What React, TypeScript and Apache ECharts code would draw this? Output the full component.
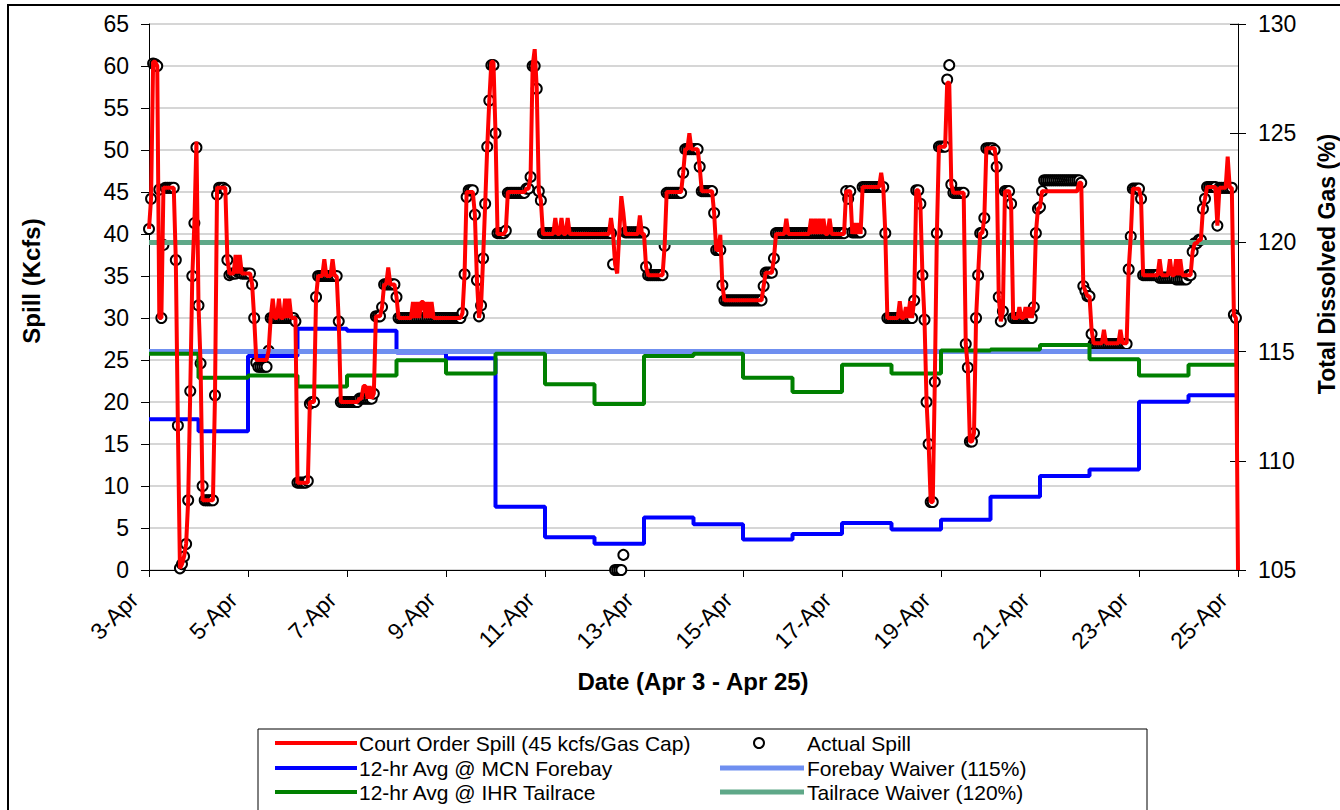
import React, { useEffect, useRef } from 'react';
import * as echarts from 'echarts';

// Tick labels of the date axis (every 48 hours, from 3-Apr 00:00)
const dateLabels = ['3-Apr', '5-Apr', '7-Apr', '9-Apr', '11-Apr', '13-Apr', '15-Apr', '17-Apr', '19-Apr', '21-Apr', '23-Apr', '25-Apr'];

// Actual spill (kcfs), hourly, 3-Apr 00:00 .. 24-Apr 23:00
const actualSpill = [
  // 3-Apr
  40.6, 44.2, 60.3, 60.2, 60.0, 45.3, 30.0, 38.7, 45.5, 45.5, 45.5, 45.5, 45.5, 36.9, 17.2, 0.2, 0.7, 1.6, 3.1, 8.3, 21.3, 35.0, 41.3, 50.3,
  // 4-Apr
  31.5, 24.6, 10.0, 8.3, 8.3, 8.3, 8.3, 8.3, 20.8, 44.7, 45.5, 45.5, 45.5, 45.3, 36.9, 35.1, 35.3, 35.3, 35.3, 35.5, 35.5, 35.3, 35.3, 35.3,
  // 5-Apr
  35.3, 35.3, 34.0, 30.0, 24.7, 24.2, 24.2, 24.2, 24.2, 24.2, 26.1, 30.0, 30.0, 30.0, 30.0, 30.0, 30.0, 30.0, 30.0, 30.0, 30.0, 30.0, 30.0, 29.6,
  // 6-Apr
  10.4, 10.4, 10.4, 10.4, 10.4, 10.6, 19.8, 20.0, 20.0, 32.5, 35.0, 35.0, 35.0, 35.0, 35.0, 35.0, 35.0, 35.0, 35.0, 35.0, 29.6, 20.0, 20.0, 20.0,
  // 7-Apr
  20.0, 20.0, 20.0, 20.0, 20.0, 20.0, 20.4, 20.4, 20.4, 20.4, 20.4, 20.4, 20.4, 21.0, 30.2, 30.2, 30.2, 31.3, 34.0, 34.0, 34.0, 34.0, 34.0, 34.0,
  // 8-Apr
  32.5, 30.0, 30.0, 30.0, 30.0, 30.0, 30.0, 30.0, 30.0, 30.0, 30.0, 30.0, 30.0, 30.0, 30.0, 30.0, 30.0, 30.0, 30.0, 30.0, 30.0, 30.0, 30.0, 30.0,
  // 9-Apr
  30.0, 30.0, 30.0, 30.0, 30.0, 30.0, 30.0, 30.0, 30.6, 35.2, 44.4, 45.2, 45.2, 45.2, 42.3, 34.5, 30.2, 31.5, 37.1, 43.6, 50.4, 55.9, 60.1, 60.1,
  // 10-Apr
  52.0, 40.1, 40.1, 40.1, 40.1, 40.4, 44.9, 44.9, 44.9, 44.9, 44.9, 44.9, 44.9, 44.9, 44.9, 45.4, 45.4, 46.8, 60.0, 60.0, 57.3, 45.1, 44.0, 40.1,
  // 11-Apr
  40.1, 40.1, 40.1, 40.1, 40.1, 40.1, 40.1, 40.1, 40.1, 40.1, 40.1, 40.1, 40.1, 40.1, 40.1, 40.1, 40.1, 40.1, 40.1, 40.1, 40.1, 40.1, 40.1, 40.1,
  // 12-Apr
  40.1, 40.1, 40.1, 40.1, 40.1, 40.1, 40.1, 40.1, 40.1, 36.4, 0.0, 0.0, 0.0, 0.0, 1.8, 40.2, 40.2, 40.2, 40.2, 40.2, 40.2, 40.2, 40.2, 40.2,
  // 13-Apr
  40.2, 36.1, 35.1, 35.1, 35.1, 35.1, 35.1, 35.1, 35.1, 35.1, 38.6, 44.9, 44.9, 44.9, 44.9, 44.9, 44.9, 44.9, 44.9, 47.3, 50.1, 50.1, 50.1, 50.1,
  // 14-Apr
  50.1, 50.1, 50.1, 48.0, 45.1, 45.1, 45.1, 45.1, 45.1, 45.1, 42.5, 38.1, 38.1, 38.1, 33.9, 32.1, 32.1, 32.1, 32.1, 32.1, 32.1, 32.1, 32.1, 32.1,
  // 15-Apr
  32.1, 32.1, 32.1, 32.1, 32.1, 32.1, 32.1, 32.1, 32.1, 32.1, 33.8, 35.4, 35.4, 35.4, 35.4, 37.1, 40.1, 40.1, 40.1, 40.1, 40.1, 40.1, 40.1, 40.1,
  // 16-Apr
  40.1, 40.1, 40.1, 40.1, 40.1, 40.1, 40.1, 40.1, 40.1, 40.1, 40.1, 40.1, 40.1, 40.1, 40.1, 40.1, 40.1, 40.1, 40.1, 40.1, 40.1, 40.1, 40.1, 40.1,
  // 17-Apr
  40.1, 40.1, 45.1, 44.2, 45.1, 40.2, 40.2, 40.2, 40.2, 40.2, 45.6, 45.6, 45.6, 45.6, 45.6, 45.6, 45.6, 45.6, 45.6, 45.6, 45.6, 40.1, 30.0, 30.0,
  // 18-Apr
  30.0, 30.0, 30.0, 30.0, 30.0, 30.0, 30.0, 30.0, 30.0, 30.0, 30.0, 32.1, 45.2, 45.2, 43.6, 35.1, 29.8, 20.0, 15.0, 8.1, 8.1, 22.4, 40.1, 50.4,
  // 19-Apr
  50.4, 50.4, 50.4, 58.4, 60.1, 45.9, 44.9, 44.9, 44.9, 44.9, 44.9, 44.9, 26.9, 24.1, 15.3, 15.3, 16.3, 30.0, 35.1, 40.1, 40.1, 41.9, 50.2, 50.2,
  // 20-Apr
  50.2, 50.2, 50.0, 48.0, 32.5, 29.6, 30.8, 45.1, 45.1, 45.1, 43.6, 30.0, 30.0, 30.0, 30.0, 30.0, 30.0, 30.0, 30.0, 30.0, 30.0, 31.3, 40.1, 43.0,
  // 21-Apr
  43.2, 45.1, 46.4, 46.4, 46.4, 46.4, 46.4, 46.4, 46.4, 46.4, 46.4, 46.4, 46.4, 46.4, 46.4, 46.4, 46.4, 46.4, 46.4, 46.4, 46.1, 33.8, 33.2, 32.6,
  // 22-Apr
  32.6, 28.1, 26.9, 26.9, 26.9, 26.9, 26.9, 26.9, 26.9, 26.9, 26.9, 26.9, 26.9, 26.9, 26.9, 26.9, 26.9, 26.9, 26.9, 35.8, 39.7, 45.4, 45.4, 45.4,
  // 23-Apr
  45.4, 44.2, 35.1, 35.1, 35.1, 35.1, 35.1, 35.1, 35.1, 35.1, 34.8, 34.8, 34.8, 34.8, 34.8, 34.8, 34.8, 34.8, 34.6, 34.6, 34.6, 34.6, 34.6, 34.6,
  // 24-Apr
  35.1, 35.1, 37.9, 38.9, 38.9, 39.3, 39.3, 43.0, 44.2, 45.6, 45.6, 45.6, 45.6, 45.6, 41.0, 45.5, 45.5, 45.5, 45.5, 45.5, 45.5, 45.5, 30.4, 30.0,
];

// Court order spill (kcfs), hourly, 3-Apr 00:00 .. 25-Apr 00:00
const courtOrderSpill = [
  // 3-Apr
  40.6, 44.2, 60.5, 60.5, 60.0, 30.0, 30.0, 45.5, 45.5, 45.5, 45.5, 45.5, 45.5, 36.9, 17.2, 0.2, 0.7, 1.6, 3.1, 8.3, 21.3, 35.0, 41.3, 51.0,
  // 4-Apr
  31.5, 24.6, 8.3, 8.3, 8.3, 8.3, 8.3, 8.3, 20.8, 45.5, 45.5, 45.5, 45.5, 45.5, 37.0, 35.3, 35.3, 35.3, 37.5, 35.3, 37.5, 35.3, 35.3, 35.3,
  // 5-Apr
  35.3, 35.3, 34.0, 30.0, 25.0, 25.0, 25.0, 25.0, 25.0, 25.0, 26.1, 30.0, 32.3, 30.0, 30.0, 32.3, 30.0, 30.0, 32.3, 30.0, 32.3, 30.0, 30.0, 30.0,
  // 6-Apr
  10.4, 10.4, 10.4, 10.4, 10.4, 10.4, 20.0, 20.0, 20.0, 32.5, 35.0, 35.0, 35.0, 37.0, 35.0, 35.0, 35.0, 37.0, 35.0, 35.0, 29.6, 20.0, 20.0, 20.0,
  // 7-Apr
  20.0, 20.0, 20.0, 20.0, 20.0, 20.0, 20.4, 20.4, 21.9, 21.9, 20.4, 21.9, 20.4, 21.0, 30.2, 30.2, 30.2, 31.3, 34.0, 34.0, 36.0, 34.0, 34.0, 34.0,
  // 8-Apr
  32.5, 30.0, 30.0, 30.0, 30.0, 30.0, 30.0, 30.0, 31.9, 30.0, 31.9, 30.0, 31.9, 31.9, 30.0, 31.9, 30.0, 31.9, 30.0, 30.0, 30.0, 30.0, 30.0, 30.0,
  // 9-Apr
  30.0, 30.0, 30.0, 30.0, 30.0, 30.0, 30.0, 30.0, 30.6, 35.2, 45.0, 45.0, 45.0, 45.0, 42.3, 34.5, 30.0, 31.5, 37.1, 43.6, 50.4, 55.9, 60.5, 60.5,
  // 10-Apr
  52.0, 40.0, 40.0, 40.0, 40.0, 40.4, 45.0, 45.0, 45.0, 45.0, 45.0, 45.0, 45.0, 45.0, 45.0, 45.4, 45.4, 46.8, 60.0, 62.0, 57.3, 45.1, 44.0, 40.0,
  // 11-Apr
  40.0, 40.0, 40.0, 40.0, 40.0, 41.9, 40.0, 40.0, 41.9, 40.0, 40.0, 41.9, 40.0, 40.0, 40.0, 40.0, 40.0, 40.0, 40.0, 40.0, 40.0, 40.0, 40.0, 40.0,
  // 12-Apr
  40.0, 40.0, 40.0, 40.0, 40.0, 40.0, 40.0, 40.0, 41.9, 40.0, 36.4, 35.3, 40.0, 44.5, 42.5, 40.0, 40.0, 40.0, 40.0, 40.0, 40.0, 40.0, 42.2, 40.0,
  // 13-Apr
  40.0, 36.1, 35.1, 35.1, 35.1, 35.1, 35.1, 35.1, 35.1, 35.1, 38.6, 45.0, 45.0, 45.0, 45.0, 45.0, 45.0, 45.0, 45.0, 47.3, 50.1, 50.1, 52.0, 50.1,
  // 14-Apr
  50.1, 50.1, 50.1, 48.0, 45.1, 45.1, 45.1, 45.1, 45.1, 45.1, 42.5, 38.1, 38.1, 39.9, 33.9, 32.1, 32.1, 32.1, 32.1, 32.1, 32.1, 32.1, 32.1, 32.1,
  // 15-Apr
  32.1, 32.1, 32.1, 32.1, 32.1, 32.1, 32.1, 32.1, 32.1, 32.1, 33.8, 35.4, 35.4, 35.4, 35.4, 37.1, 40.0, 40.0, 40.0, 40.0, 40.0, 41.8, 40.0, 40.0,
  // 16-Apr
  40.0, 40.0, 40.0, 40.0, 40.0, 40.0, 40.0, 40.0, 40.0, 41.8, 40.0, 41.8, 40.0, 41.8, 40.0, 41.8, 40.0, 40.0, 41.8, 40.0, 40.0, 40.0, 40.0, 40.0,
  // 17-Apr
  40.0, 40.0, 45.1, 45.1, 45.1, 40.0, 41.3, 40.0, 41.3, 40.0, 45.6, 45.6, 45.6, 45.6, 45.6, 45.6, 45.6, 45.6, 45.6, 47.3, 45.6, 40.1, 30.0, 30.0,
  // 18-Apr
  30.0, 30.0, 30.0, 30.0, 32.0, 30.0, 30.0, 31.3, 30.0, 32.0, 30.0, 32.1, 45.2, 45.2, 43.6, 35.1, 29.8, 20.0, 15.0, 8.1, 8.1, 22.4, 40.1, 50.4,
  // 19-Apr
  50.4, 50.4, 50.4, 58.0, 58.0, 45.9, 44.9, 44.9, 44.9, 44.9, 44.9, 44.9, 26.9, 24.1, 15.3, 15.3, 16.3, 30.0, 35.1, 40.1, 40.1, 41.9, 50.2, 50.2,
  // 20-Apr
  50.2, 50.2, 50.2, 48.0, 32.5, 29.6, 30.8, 45.1, 45.1, 45.1, 43.6, 30.0, 30.0, 30.0, 31.3, 30.0, 30.0, 31.3, 30.0, 31.3, 30.0, 31.3, 40.1, 43.0,
  // 21-Apr
  43.2, 45.1, 45.1, 45.1, 45.1, 45.1, 45.1, 45.1, 45.1, 45.1, 45.1, 45.1, 45.1, 45.1, 45.1, 45.1, 45.1, 45.1, 45.1, 46.1, 46.1, 33.8, 33.2, 32.6,
  // 22-Apr
  32.6, 28.6, 27.0, 27.0, 27.0, 27.0, 27.0, 28.6, 27.0, 27.0, 27.0, 27.0, 27.0, 27.0, 27.0, 28.6, 27.0, 27.0, 27.0, 35.8, 39.7, 45.4, 45.4, 45.4,
  // 23-Apr
  45.4, 44.2, 35.1, 35.1, 35.1, 35.1, 35.1, 35.1, 35.1, 35.1, 37.0, 35.1, 35.1, 35.1, 35.1, 37.0, 35.1, 35.1, 37.0, 35.1, 37.0, 35.1, 35.1, 35.1,
  // 24-Apr
  35.1, 35.1, 37.9, 38.9, 38.9, 39.3, 39.3, 43.0, 44.2, 45.6, 45.6, 45.6, 45.6, 45.6, 41.0, 45.5, 45.5, 45.5, 45.5, 49.2, 45.5, 45.5, 30.4, 30.0,
  // 25-Apr 00:00
  0.0,
];

// 12-hr average total dissolved gas (%), one value per day 3-Apr .. 24-Apr
const mcnForebayTDG = [111.9, 111.35, 114.8, 116.05, 115.95, 114.96, 114.7, 107.9, 106.5, 106.2, 107.4, 107.1, 106.4, 106.65, 107.15, 106.85, 107.3, 108.35, 109.3, 109.6, 112.7, 113.0];
const ihrTailraceTDG = [114.9, 113.8, 113.9, 113.4, 113.9, 114.6, 114.0, 114.9, 113.5, 112.6, 114.8, 114.9, 113.8, 113.15, 114.4, 114.0, 115.05, 115.1, 115.3, 114.65, 113.9, 114.4];

const forebayWaiver = 115;
const tailraceWaiver = 120;

const HOURS_PER_DAY = 24;
const TOTAL_HOURS = 528;

const FONT = '"Liberation Sans", Arial, sans-serif';

const legendText = (x: number, y: number, text: string) => ({
  type: 'text',
  x,
  y,
  silent: true,
  style: {
    text,
    fill: '#000',
    fontSize: 21,
    fontFamily: FONT,
    align: 'left',
    verticalAlign: 'middle',
    textAlign: 'left',
    textVerticalAlign: 'middle',
  },
});

const legendLine = (x1: number, x2: number, y: number, color: string, width: number) => ({
  type: 'line',
  silent: true,
  shape: { x1, y1: y, x2, y2: y },
  style: { stroke: color, lineWidth: width },
});

export default function App() {
  const ref = useRef<HTMLDivElement>(null);

  useEffect(() => {
    if (!ref.current) return;
    const chart = echarts.init(ref.current, null, { renderer: 'svg' });

    const stepData = (arr: number[]) => {
      const d = arr.map((v, i) => [i * HOURS_PER_DAY, v]);
      d.push([TOTAL_HOURS, arr[arr.length - 1]]);
      return d;
    };

    const option: any = {
      animation: false,
      backgroundColor: '#ffffff',
      textStyle: { fontFamily: FONT },
      grid: { left: 149, right: 102, top: 24, bottom: 240 },
      xAxis: {
        type: 'value',
        min: 0,
        max: TOTAL_HOURS,
        interval: 48,
        axisLine: { show: true, onZero: false, lineStyle: { color: '#000', width: 1 } },
        axisTick: { show: true, length: 7, lineStyle: { color: '#000', width: 1 } },
        axisLabel: {
          rotate: 45,
          fontSize: 23,
          color: '#000',
          fontFamily: FONT,
          margin: 11,
          formatter: (v: number) => {
            const label = dateLabels[Math.round(v / 48)];
            return label ? `{d|${label}}` : '';
          },
          rich: {
            d: { fontSize: 23, fontFamily: FONT, color: '#000', padding: [0, 21, 0, 0] },
          },
        },
        splitLine: { show: false },
      },
      yAxis: [
        {
          type: 'value',
          min: 0,
          max: 65,
          interval: 5,
          position: 'left',
          axisLine: { show: true, lineStyle: { color: '#000', width: 1 } },
          axisTick: { show: true, length: 8, lineStyle: { color: '#000', width: 1 } },
          axisLabel: { fontSize: 23, color: '#000', fontFamily: FONT, margin: 20 },
          splitLine: { show: true, lineStyle: { color: '#d6d6d6', width: 2 } },
        },
        {
          type: 'value',
          min: 105,
          max: 130,
          interval: 5,
          position: 'right',
          axisLine: { show: true, lineStyle: { color: '#000', width: 1 } },
          axisTick: { show: true, length: 8, lineStyle: { color: '#000', width: 1 } },
          axisLabel: { fontSize: 23, color: '#000', fontFamily: FONT, margin: 20 },
          splitLine: { show: false },
        },
        {
          type: 'value',
          min: 105,
          max: 130,
          interval: 5,
          position: 'right',
          axisLine: { show: false },
          axisTick: { show: true, inside: true, length: 8, lineStyle: { color: '#000', width: 1 } },
          axisLabel: { show: false },
          splitLine: { show: false },
        },
      ],
      series: [
        {
          name: '12-hr Avg @ MCN Forebay',
          type: 'line',
          yAxisIndex: 1,
          step: 'end',
          showSymbol: false,
          symbol: 'none',
          lineStyle: { color: '#0000ff', width: 4 },
          data: stepData(mcnForebayTDG),
        },
        {
          name: 'Forebay Waiver (115%)',
          type: 'line',
          yAxisIndex: 1,
          showSymbol: false,
          symbol: 'none',
          lineStyle: { color: '#6f8ff0', width: 5 },
          data: [[0, forebayWaiver], [TOTAL_HOURS, forebayWaiver]],
        },
        {
          name: 'Tailrace Waiver (120%)',
          type: 'line',
          yAxisIndex: 1,
          showSymbol: false,
          symbol: 'none',
          lineStyle: { color: '#5fa888', width: 5 },
          data: [[0, tailraceWaiver], [TOTAL_HOURS, tailraceWaiver]],
        },
        {
          name: '12-hr Avg @ IHR Tailrace',
          type: 'line',
          yAxisIndex: 1,
          step: 'end',
          showSymbol: false,
          symbol: 'none',
          lineStyle: { color: '#008000', width: 4 },
          data: stepData(ihrTailraceTDG),
        },
        {
          name: 'Court Order Spill (45 kcfs/Gas Cap)',
          type: 'line',
          yAxisIndex: 0,
          showSymbol: false,
          symbol: 'none',
          lineStyle: { color: '#ff0000', width: 4 },
          data: courtOrderSpill.map((v, i) => [i, v]),
        },
        {
          name: 'Actual Spill',
          type: 'scatter',
          yAxisIndex: 0,
          symbol: 'circle',
          symbolSize: 10,
          itemStyle: { color: '#ffffff', borderColor: '#000000', borderWidth: 2, opacity: 1 },
          data: actualSpill.map((v, i) => [i, v]),
        },
      ],
      graphic: [
        // outer chart frame
        {
          type: 'rect',
          silent: true,
          shape: { x: 8, y: 5, width: 1400, height: 900 },
          style: { fill: 'rgba(0,0,0,0)', stroke: '#000', lineWidth: 2 },
        },
        // axis titles
        {
          type: 'text',
          x: 31,
          y: 281,
          rotation: Math.PI / 2,
          silent: true,
          style: {
            text: 'Spill (Kcfs)',
            fill: '#000',
            fontSize: 24,
            fontWeight: 'bold',
            fontFamily: FONT,
            align: 'center',
            verticalAlign: 'middle',
            textAlign: 'center',
            textVerticalAlign: 'middle',
          },
        },
        {
          type: 'text',
          x: 1327,
          y: 264,
          rotation: Math.PI / 2,
          silent: true,
          style: {
            text: 'Total Dissolved Gas (%)',
            fill: '#000',
            fontSize: 23,
            fontWeight: 'bold',
            fontFamily: FONT,
            align: 'center',
            verticalAlign: 'middle',
            textAlign: 'center',
            textVerticalAlign: 'middle',
          },
        },
        {
          type: 'text',
          x: 693,
          y: 681,
          silent: true,
          style: {
            text: 'Date (Apr 3 - Apr 25)',
            fill: '#000',
            fontSize: 24,
            fontWeight: 'bold',
            fontFamily: FONT,
            align: 'center',
            verticalAlign: 'middle',
            textAlign: 'center',
            textVerticalAlign: 'middle',
          },
        },
        // legend box
        {
          type: 'rect',
          silent: true,
          shape: { x: 258, y: 729, width: 889, height: 120 },
          style: { fill: '#ffffff', stroke: '#000', lineWidth: 1 },
        },
        legendLine(275, 357, 743, '#ff0000', 4),
        legendText(359, 743, 'Court Order Spill (45 kcfs/Gas Cap)'),
        {
          type: 'circle',
          silent: true,
          shape: { cx: 759, cy: 743, r: 5 },
          style: { fill: '#ffffff', stroke: '#000', lineWidth: 2 },
        },
        legendText(807, 743, 'Actual Spill'),
        legendLine(275, 357, 768, '#0000ff', 4),
        legendText(359, 768, '12-hr Avg @ MCN Forebay'),
        legendLine(720, 804, 768, '#6f8ff0', 5),
        legendText(807, 768, 'Forebay Waiver (115%)'),
        legendLine(275, 357, 792, '#008000', 4),
        legendText(359, 792, '12-hr Avg @ IHR Tailrace'),
        legendLine(720, 804, 792, '#5fa888', 5),
        legendText(807, 792, 'Tailrace Waiver (120%)'),
      ],
    };

    chart.setOption(option);
    return () => {
      chart.dispose();
    };
  }, []);

  return (
    <div
      ref={ref}
      style={{ position: 'fixed', left: 0, top: 0, width: 1340, height: 810, background: '#ffffff' }}
    />
  );
}
